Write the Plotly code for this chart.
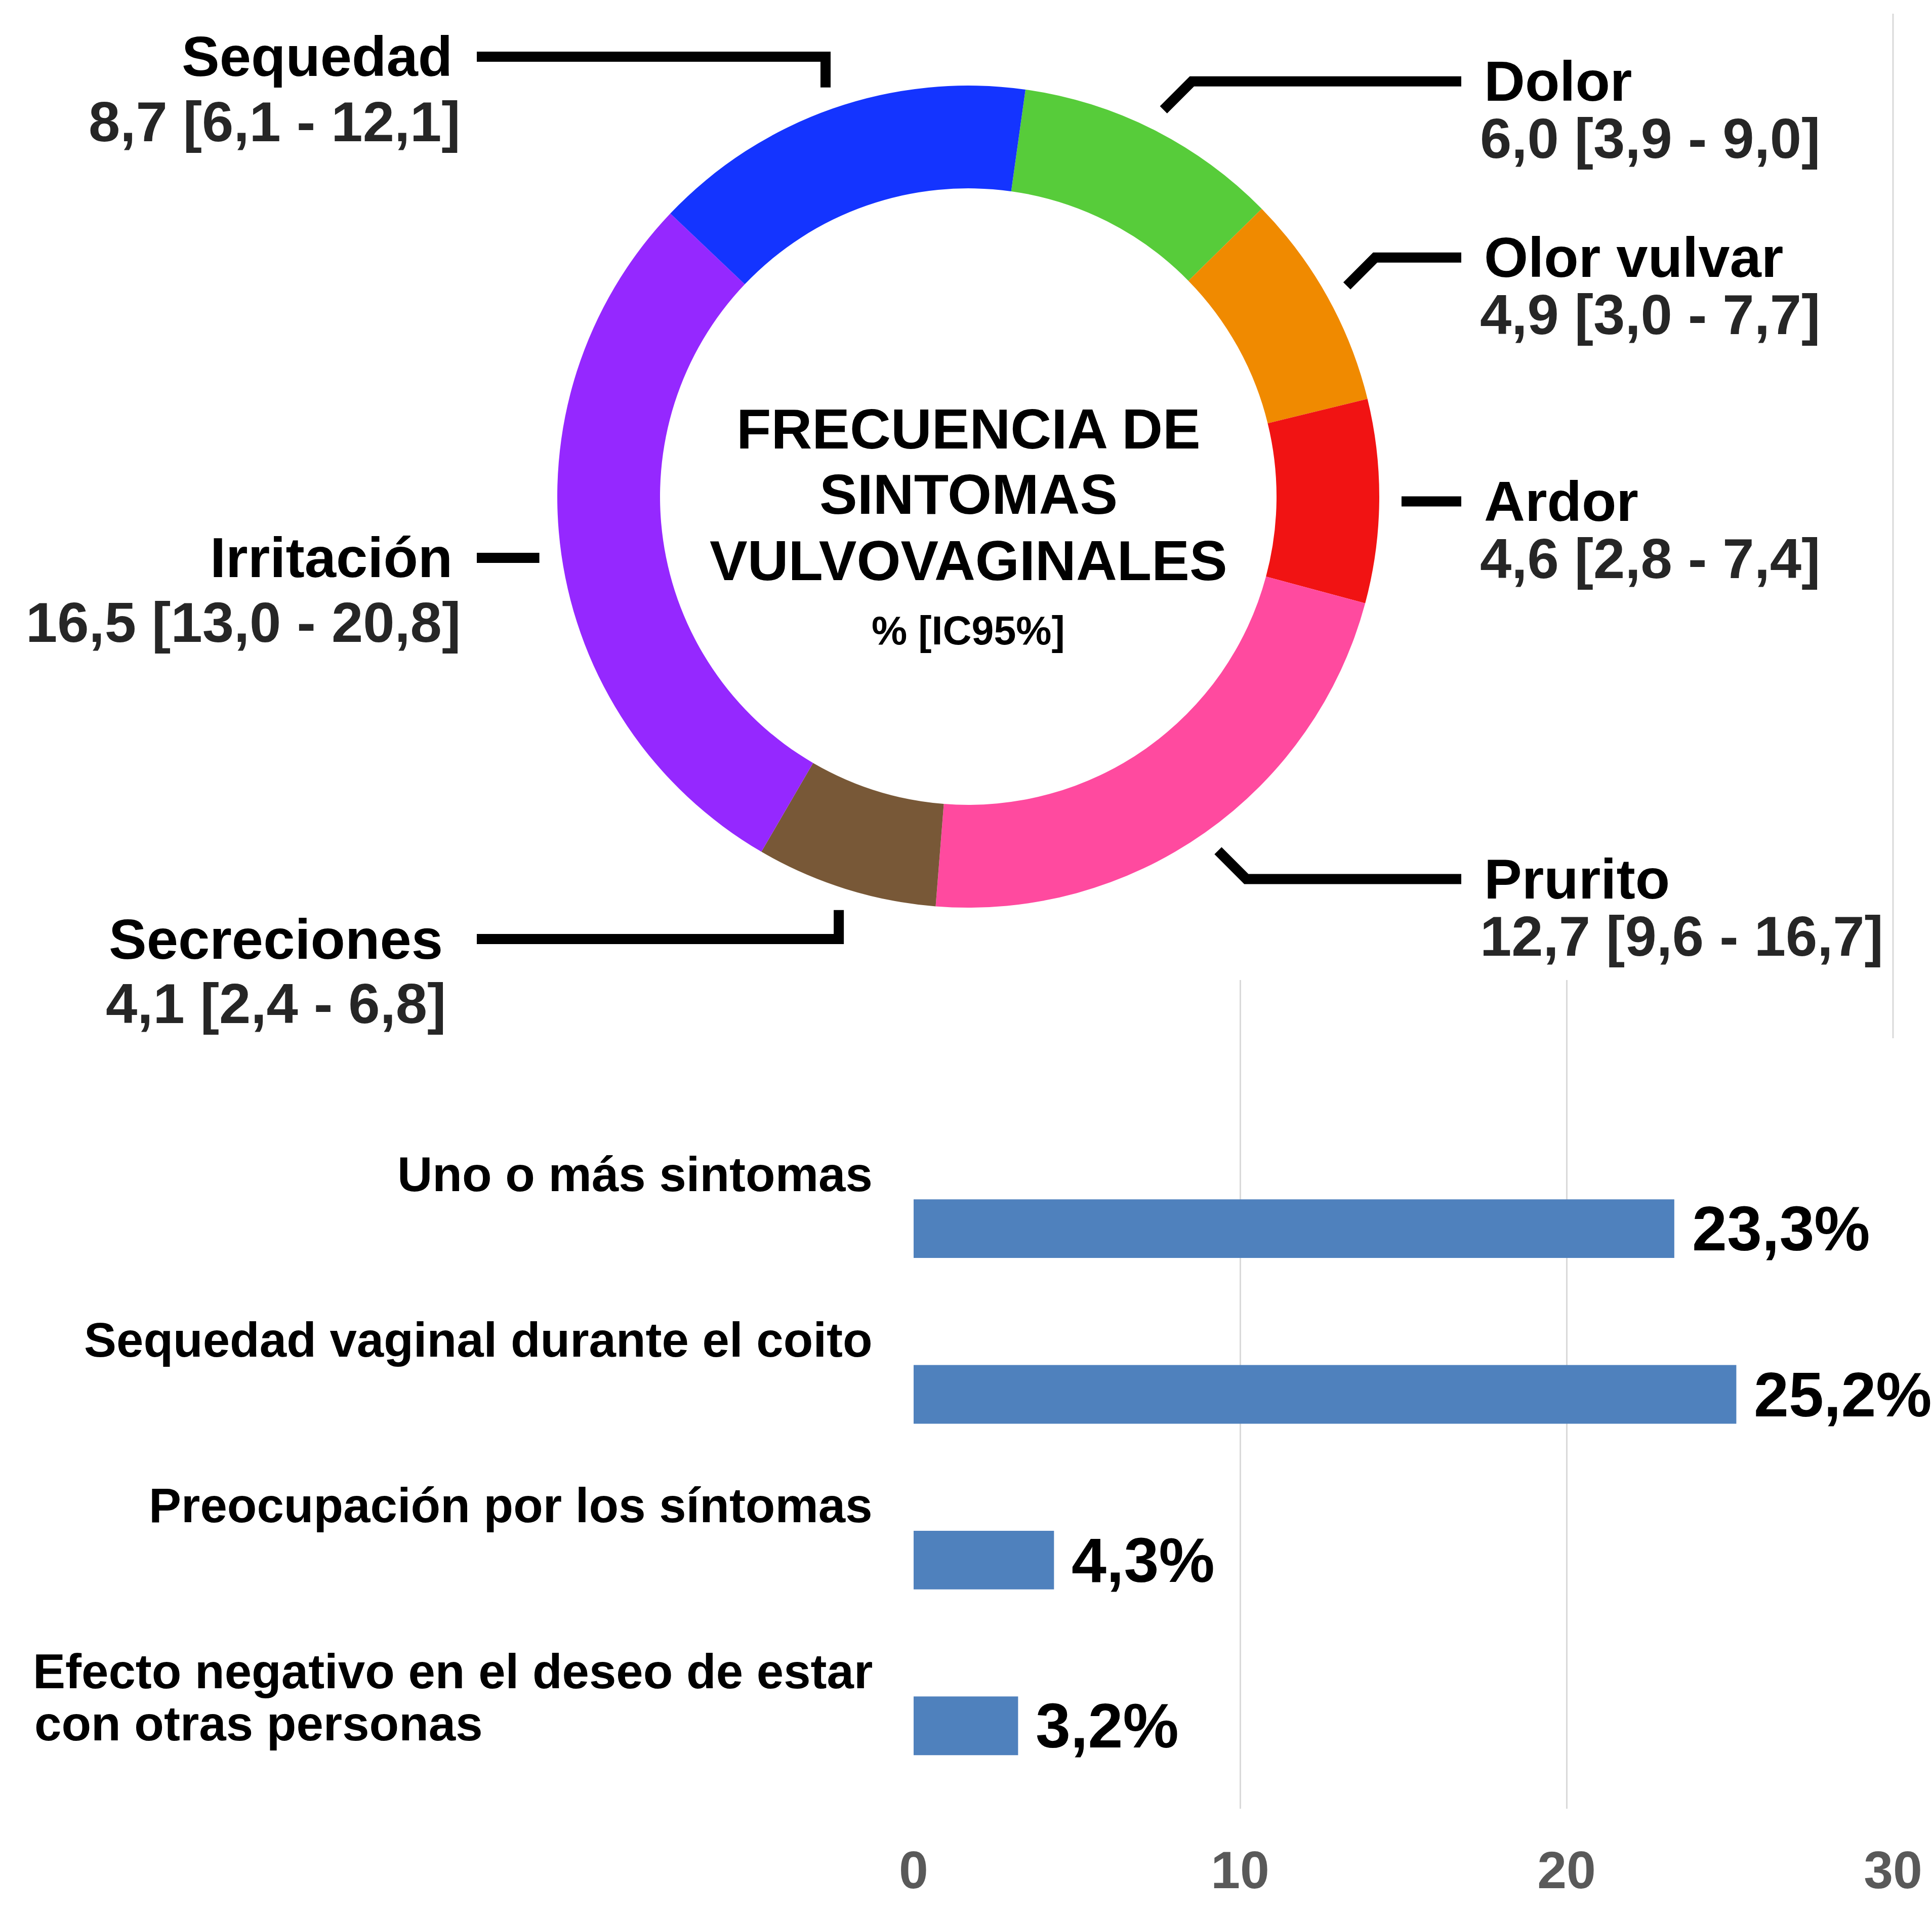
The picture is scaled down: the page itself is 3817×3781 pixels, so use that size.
import math
import plotly.graph_objects as go

W, H = 3817, 3781

# ---------------- data ----------------
symptoms = ["Dolor", "Olor vulvar", "Ardor", "Prurito", "Secreciones", "Irritación", "Sequedad"]
freq = [6.0, 4.9, 4.6, 12.7, 4.1, 16.5, 8.7]
ci_low = [3.9, 3.0, 2.8, 9.6, 2.4, 13.0, 6.1]
ci_high = [9.0, 7.7, 7.4, 16.7, 6.8, 20.8, 12.1]
slice_colors = ["#57CC3A", "#F08A00", "#F11313", "#FF4A9F", "#785837", "#9528FF", "#1434FF"]

center_title = ["FRECUENCIA DE", "SINTOMAS", "VULVOVAGINALES"]
center_sub = "% [IC95%]"

bar_categories = ["Uno o más sintomas", "Sequedad vaginal durante el coito",
                  "Preocupación por los síntomas",
                  "Efecto negativo en el deseo de estar<br>con otras personas"]
bar_values = [23.3, 25.2, 4.3, 3.2]
x_ticks = [0, 10, 20, 30]

# ---------------- layout constants (pixels) ----------------
FONT = "Liberation Sans, Arial, Helvetica, sans-serif"
CX, CY, R = 1913, 981, 812
HOLE = 0.75
ROT = 8
R1 = 856                    # leader start radius
DIAG = 56                   # 45-degree leader segment (px in x and y)
RIGHT_END, LEFT_END = 2887, 942
leader_kind = {"Dolor": "diag", "Olor vulvar": "diag", "Ardor": "horiz", "Prurito": "diag",
               "Secreciones": "vert", "Irritación": "horiz", "Sequedad": "vert"}
vert_label_y = {"Secreciones": 1855, "Sequedad": 112}
left_text_right = {"Sequedad": (896, 912), "Irritación": (896, 912), "Secreciones": (877, 883)}


def px(x):
    return x / W


def py(y):
    return 1 - y / H


def fmt(v):
    return f"{v:.1f}".replace(".", ",")


fig = go.Figure()

fig.add_trace(go.Pie(
    labels=symptoms, values=freq, hole=HOLE, sort=False, direction="clockwise",
    rotation=ROT, textinfo="none", hoverinfo="label+value", automargin=False,
    marker=dict(colors=slice_colors, line=dict(width=0)),
    domain=dict(x=[px(CX - R), px(CX + R)], y=[py(CY + R), py(CY - R)]),
    showlegend=False,
))

# ---------------- bars ----------------
fig.add_trace(go.Bar(
    x=bar_values, y=bar_categories, orientation="h", width=0.354,
    marker=dict(color="#4F81BD", line=dict(width=0)), showlegend=False,
    xaxis="x", yaxis="y",
))

annotations = []
shapes = []

# center text
title_y = [847, 976, 1107]
for t, yy in zip(center_title, title_y):
    annotations.append(dict(text=t, x=px(CX), y=py(yy), xref="paper", yref="paper",
                            xanchor="center", yanchor="middle", showarrow=False,
                            font=dict(family=FONT, size=112, color="#000000", weight=700)))
annotations.append(dict(text=center_sub, x=px(CX), y=py(1246), xref="paper", yref="paper",
                        xanchor="center", yanchor="middle", showarrow=False,
                        font=dict(family=FONT, size=79, color="#000000", weight=700)))

# pie labels with leader lines computed from slice angles
total = sum(freq)
cum = 0.0
for name, f, lo, hi in zip(symptoms, freq, ci_low, ci_high):
    mid = math.radians(ROT + (cum + f / 2) / total * 360)
    cum += f
    sx, sy = math.sin(mid), -math.cos(mid)
    ax, ay = CX + R1 * sx, CY + R1 * sy
    right = sx > 0
    xend = RIGHT_END if right else LEFT_END
    kind = leader_kind[name]
    if kind == "diag":
        ex = ax + DIAG * (1 if sx > 0 else -1)
        ey = ay + DIAG * (1 if sy > 0 else -1)
        pts = [(ax, ay), (ex, ey), (xend, ey)]
        ly = ey
    elif kind == "horiz":
        pts = [(ax, ay), (xend, ay)]
        ly = ay
    else:
        ly = vert_label_y[name]
        pts = [(ax, ay), (ax, ly), (xend, ly)]
    path = "M " + " L ".join(f"{px(x):.6f},{py(y):.6f}" for x, y in pts)
    shapes.append(dict(type="path", path=path, xref="paper", yref="paper",
                       line=dict(color="#000000", width=20)))
    val_txt = f"{fmt(f)} [{fmt(lo)} - {fmt(hi)}]"
    if right:
        nx, vx, anchor, dv = 2930, 2922, "left", 113
    else:
        nx, vx = left_text_right[name]
        anchor, dv = "right", 128
    annotations.append(dict(text=name, x=px(nx), y=py(ly), xref="paper", yref="paper",
                            xanchor=anchor, yanchor="middle", showarrow=False,
                            font=dict(family=FONT, size=112, color="#000000", weight=700)))
    annotations.append(dict(text=val_txt, x=px(vx), y=py(ly + dv), xref="paper", yref="paper",
                            xanchor=anchor, yanchor="middle", showarrow=False,
                            font=dict(family=FONT, size=112, color="#262626", weight=700)))

# bar category labels
for cat in bar_categories:
    lines = cat.split("<br>")
    for k, ln in enumerate(lines):
        if k == 0:
            annotations.append(dict(text=ln, x=px(1726), xref="paper", y=cat, yref="y",
                                    xanchor="right", yanchor="middle", yshift=108,
                                    showarrow=False,
                                    font=dict(family=FONT, size=96, color="#000000", weight=700)))
        else:
            annotations.append(dict(text=ln, x=px(66), xref="paper", y=cat, yref="y",
                                    xanchor="left", yanchor="middle", yshift=108 - 103 * k,
                                    showarrow=False,
                                    font=dict(family=FONT, size=96, color="#000000", weight=700)))

# bar value labels
for cat, v in zip(bar_categories, bar_values):
    annotations.append(dict(text=fmt(v) + "%", x=v, y=cat, xref="x", yref="y",
                            xanchor="left", yanchor="middle", xshift=33, showarrow=False,
                            font=dict(family=FONT, size=124, color="#000000", weight=700)))

# right border line
shapes.append(dict(type="line", xref="paper", yref="paper", x0=px(3740), x1=px(3740),
                   y0=py(27), y1=py(2051), line=dict(color="#D9D9D9", width=3)))

fig.update_layout(
    width=W, height=H, autosize=False,
    margin=dict(l=0, r=0, t=0, b=0, pad=0, autoexpand=False),
    paper_bgcolor="white", plot_bgcolor="white", showlegend=False,
    xaxis=dict(domain=[px(1805), px(3740)], range=[0, 30], tickvals=x_ticks,
               automargin=False,
               showgrid=True, gridcolor="#D9D9D9", gridwidth=3, zeroline=False,
               showline=False, ticks="", ticklabelstandoff=52,
               tickfont=dict(family=FONT, size=104, color="#595959", weight=700)),
    yaxis=dict(domain=[py(3573), py(1936)], type="category", automargin=False,
               categoryorder="array", categoryarray=bar_categories,
               range=[3.5, -1.5], showticklabels=False, showgrid=False, zeroline=False,
               showline=False),
    annotations=annotations, shapes=shapes,
)

fig.write_html("out.html", config={"displayModeBar": False},
               post_script="document.body.style.margin='0';")
